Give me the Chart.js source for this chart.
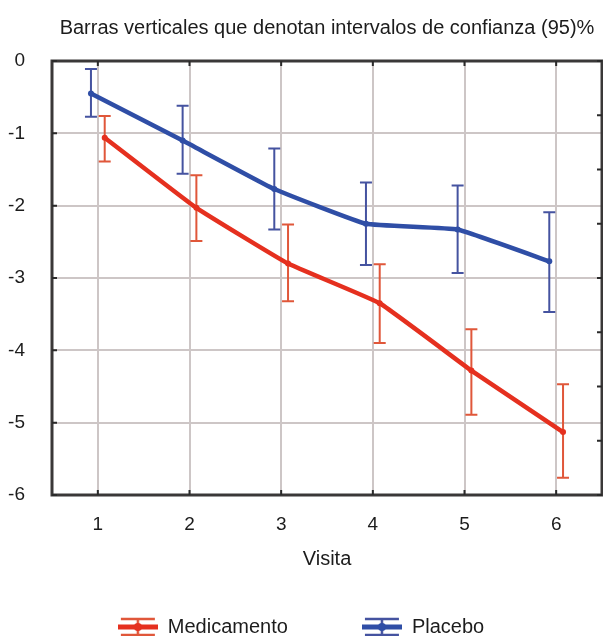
<!DOCTYPE html>
<html>
<head>
<meta charset="utf-8">
<title>Barras verticales que denotan intervalos de confianza (95)%</title>
<script src="https://cdn.jsdelivr.net/npm/chart.js@4/dist/chart.umd.min.js"></script>
<style>
  html, body { margin: 0; padding: 0; background: #ffffff; }
  #wrap { width: 603px; height: 636px; position: relative; }
</style>
</head>
<body>
<div id="wrap"><canvas id="chart"></canvas></div>
<script>
// Visits (x categories) and y-axis tick labels
const visits = [1, 2, 3, 4, 5, 6];
const yTicks = [0, -1, -2, -3, -4, -5, -6];

// Medicamento: mean change and 95% confidence limits
const medMean = [-1.06, -2.03, -2.80, -3.35, -4.28, -5.13];
const medLow  = [-1.39, -2.49, -3.32, -3.90, -4.89, -5.76];
const medHigh = [-0.76, -1.58, -2.26, -2.81, -3.71, -4.47];

// Placebo: mean change and 95% confidence limits
const plaMean = [-0.45, -1.10, -1.77, -2.25, -2.33, -2.77];
const plaLow  = [-0.77, -1.56, -2.33, -2.82, -2.93, -3.47];
const plaHigh = [-0.11, -0.62, -1.21, -1.68, -1.72, -2.09];

// Small horizontal dodge so the two groups' bars don't overlap
const MED_SHIFT = 0.075;
const PLA_SHIFT = -0.075;

const FONT = "'Liberation Sans', Arial, Helvetica, sans-serif";
const TEXT = '#1c1c1c';
const RED = '#e5301f', RED_BAR = '#e0573a';
const BLUE = '#2f4ea6', BLUE_BAR = '#4553a0';

function points(means, shift) {
  return visits.map((v, i) => ({ x: v + shift, y: means[i] }));
}

// Legend glyph: a small error bar lying on its side
function legendGlyph(lineColor, barColor) {
  const c = document.createElement('canvas');
  c.width = 40; c.height = 22;
  const g = c.getContext('2d');
  g.strokeStyle = barColor; g.lineWidth = 2.5;
  g.beginPath();
  g.moveTo(3, 3); g.lineTo(37, 3);
  g.moveTo(3, 19); g.lineTo(37, 19);
  g.moveTo(20, 3); g.lineTo(20, 19);
  g.stroke();
  g.strokeStyle = lineColor; g.lineWidth = 5;
  g.beginPath(); g.moveTo(0, 11); g.lineTo(40, 11); g.stroke();
  g.fillStyle = lineColor;
  g.beginPath(); g.arc(20, 11, 4, 0, Math.PI * 2); g.fill();
  return c;
}
const glyphs = [legendGlyph(RED, RED_BAR), legendGlyph(BLUE, BLUE_BAR)];

// Vertical confidence-interval bars, drawn under the lines
const errorBars = {
  id: 'errorBars',
  beforeDatasetsDraw(chart) {
    const ctx = chart.ctx;
    const ys = chart.scales.y;
    chart.data.datasets.forEach((ds, i) => {
      const meta = chart.getDatasetMeta(i);
      if (!chart.isDatasetVisible(i)) return;
      ctx.save();
      ctx.strokeStyle = ds.barColor;
      ctx.lineWidth = 2;
      meta.data.forEach((pt, j) => {
        const x = pt.x;
        const yl = ys.getPixelForValue(ds.lower[j]);
        const yh = ys.getPixelForValue(ds.upper[j]);
        ctx.beginPath();
        ctx.moveTo(x, yh); ctx.lineTo(x, yl);
        ctx.moveTo(x - 6, yh); ctx.lineTo(x + 6, yh);
        ctx.moveTo(x - 6, yl); ctx.lineTo(x + 6, yl);
        ctx.stroke();
      });
      ctx.restore();
    });
  }
};

// Dark frame around the plot with short inward tick marks
const frame = {
  id: 'frame',
  beforeDatasetsDraw(chart) {
    const { ctx, chartArea: a, scales } = chart;
    ctx.save();
    ctx.strokeStyle = '#3a3838';
    ctx.lineWidth = 3;
    ctx.strokeRect(a.left, a.top, a.right - a.left, a.bottom - a.top);
    ctx.lineWidth = 2;
    ctx.strokeStyle = '#2a2a2a';
    ctx.beginPath();
    scales.x.ticks.forEach(t => {
      const x = scales.x.getPixelForValue(t.value);
      ctx.moveTo(x, a.top); ctx.lineTo(x, a.top + 5);
      ctx.moveTo(x, a.bottom); ctx.lineTo(x, a.bottom - 5);
    });
    scales.y.ticks.forEach(t => {
      const y = scales.y.getPixelForValue(t.value);
      ctx.moveTo(a.left, y); ctx.lineTo(a.left + 5, y);
    });
    scales.y2.ticks.forEach(t => {
      const y = scales.y2.getPixelForValue(t.value);
      ctx.moveTo(a.right, y); ctx.lineTo(a.right - 5, y);
    });
    ctx.stroke();
    ctx.restore();
  }
};

new Chart(document.getElementById('chart'), {
  type: 'line',
  data: {
    datasets: [
      {
        label: 'Medicamento',
        data: points(medMean, MED_SHIFT),
        lower: medLow, upper: medHigh,
        borderColor: RED, backgroundColor: RED, barColor: RED_BAR,
        borderWidth: 4.5, pointRadius: 3, pointBorderWidth: 0,
        pointBackgroundColor: RED, tension: 0.1, order: 1
      },
      {
        label: 'Placebo',
        data: points(plaMean, PLA_SHIFT),
        lower: plaLow, upper: plaHigh,
        borderColor: BLUE, backgroundColor: BLUE, barColor: BLUE_BAR,
        borderWidth: 4.5, pointRadius: 3, pointBorderWidth: 0,
        pointBackgroundColor: BLUE, tension: 0.1, order: 2
      }
    ]
  },
  options: {
    responsive: true,
    maintainAspectRatio: false,
    animation: false,
    devicePixelRatio: 1,
    layout: { autoPadding: false, padding: { left: 0, right: 1, top: 0, bottom: -11 } },
    scales: {
      x: {
        type: 'linear',
        min: 0.5, max: 6.5,
        afterBuildTicks: s => { s.ticks = visits.map(v => ({ value: v })); },
        afterFit: s => { s.height = 48; s.paddingLeft = 0; s.paddingRight = 0; },
        grid: { color: '#cdc6c6', lineWidth: 2, drawTicks: false },
        border: { display: false },
        ticks: { color: TEXT, font: { family: FONT, size: 19 }, padding: 18 },
        title: {
          display: true, text: 'Visita', color: TEXT,
          font: { family: FONT, size: 20 },
          padding: { top: 0, bottom: -28 }
        }
      },
      y: {
        min: -6, max: 0,
        afterBuildTicks: s => { s.ticks = yTicks.map(v => ({ value: v })); },
        afterFit: s => { s.width = 52; },
        grid: { color: '#cdc6c6', lineWidth: 2, drawTicks: false },
        border: { display: false },
        ticks: { color: TEXT, font: { family: FONT, size: 19 }, padding: 27 }
      },
      y2: {
        position: 'right',
        min: -6, max: 0,
        ticks: { stepSize: 0.75, display: false },
        grid: { display: false, drawTicks: false },
        border: { display: false },
        afterFit: s => { s.width = 0; }
      }
    },
    plugins: {
      title: {
        display: true,
        fullSize: false,
        text: 'Barras verticales que denotan intervalos de confianza (95)%',
        color: TEXT,
        font: { family: FONT, size: 20, weight: 'normal' },
        padding: { top: 16, bottom: 21 }
      },
      legend: {
        position: 'bottom',
        labels: {
          color: TEXT,
          font: { family: FONT, size: 20 },
          usePointStyle: true,
          pointStyleWidth: 40,
          padding: 74,
          generateLabels(chart) {
            const items = Chart.defaults.plugins.legend.labels.generateLabels(chart);
            items.forEach((it, i) => { it.pointStyle = glyphs[i]; });
            return items;
          }
        }
      },
      tooltip: { enabled: false }
    }
  },
  plugins: [errorBars, frame]
});
</script>
</body>
</html>
